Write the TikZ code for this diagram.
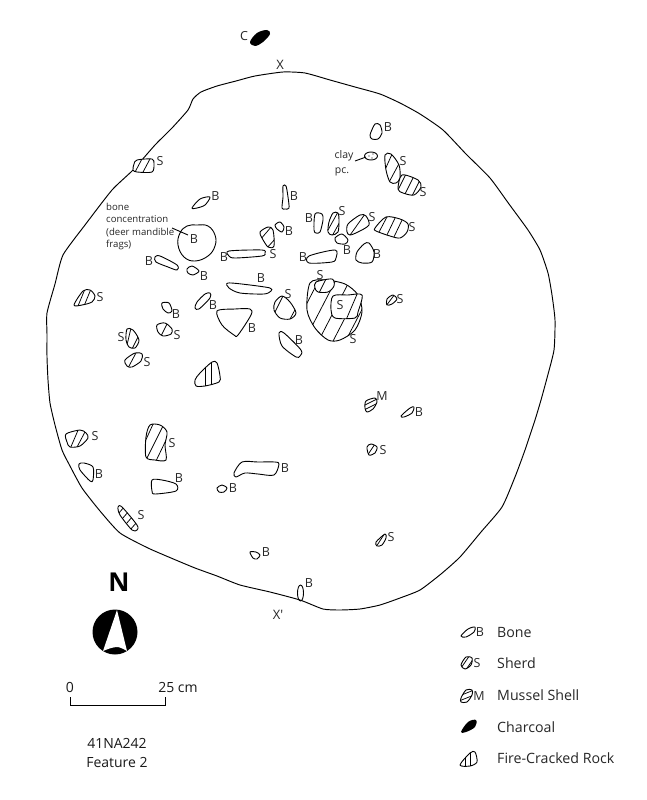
\documentclass[tikz,border=0pt]{standalone}
\usepackage{fontspec}
\setmainfont{Open Sans}
\tikzset{
 art/.style={draw=black,line width=0.9pt,line join=round},
 outline/.style={draw=black,line width=0.95pt,line join=round},
 hatchline/.style={draw=black,line width=0.75pt},
 lbl/.style={inner sep=0pt,font=\fontsize{12.5}{14}\selectfont,text=black!85},
 small/.style={inner sep=0pt,font=\fontsize{12}{14}\selectfont,align=left,text=black!85},
 legend/.style={inner sep=0pt,anchor=west,font=\fontsize{14.2}{16}\selectfont,text=black!85},
 caption/.style={inner sep=0pt,font=\fontsize{14}{16}\selectfont,text=black!90}
}
\newcounter{lbn}
\newcommand{\lb}[3]{\stepcounter{lbn}\node[lbl] (lb\arabic{lbn}) at (#1,#2) {#3};}
\newcommand{\blob}[1]{\draw[art,fill=white] plot[smooth cycle,tension=.5] coordinates {#1};}
\newcommand{\hblob}[2]{\fill[white] plot[smooth cycle,tension=.5] coordinates {#1};
 \begin{scope}\clip plot[smooth cycle,tension=.5] coordinates {#1};\draw[hatchline] #2;\end{scope}
 \draw[art] plot[smooth cycle,tension=.5] coordinates {#1};}
\begin{document}
\begin{tikzpicture}[x=1pt,y=-1pt]
\useasboundingbox (0,0) rectangle (647,800);
% feature outline
\draw[outline] plot[smooth cycle,tension=.35] coordinates {(283,72)(255,76)(236,81)(217,86)(201,92)(193,99)(188,110)(172,128)(155,145)(133,170)(112,190)(85,225)(63,255)(55,284)(47,313)(47,335)(47,357)(48,380)(50,403)(55,425)(62,450)(70,466)(82,488)(100,511)(120,533)(148,548)(171,558)(195,568)(217,576)(240,585)(270,592)(300,600)(323,609)(340,610)(360,609)(380,605)(400,598)(420,590)(441,574)(460,557)(481,532)(502,507)(515,477)(525,450)(535,420)(541,400)(547,378)(554,350)(555,320)(552,295)(548,273)(540,250)(528,230)(509,204)(490,178)(466,154)(443,130)(420,114)(400,103)(380,94)(355,87)(330,80)(305,73)};
\node[lbl,font=\fontsize{13}{15}\selectfont] (x) at (280,65) {X};
\node[lbl,font=\fontsize{13}{15}\selectfont] (xp) at (278,615) {X\textquotesingle};
% charcoal
\fill[black] plot[smooth cycle,tension=.6] coordinates {(250,42)(257,33)(267,30)(270,34)(263,42)(255,46)};
\lb{244}{36}{C}
% upper left
\hblob{(137,160)(152,159)(154,164)(152,172)(137,172)(133,170)(134,164)}{(134,174)--(143,157) (142,174)--(151,157)}
\lb{160}{161}{S}
\blob{(192,208)(200,199)(210,197)(205,205)(197,208)}
\lb{215.5}{196}{B}
\draw[art] plot[smooth cycle,tension=.7] coordinates {(197,225)(208,226)(215,235)(215,246)(208,256)(195,261)(184,257)(178,245)(180,233)(187,226)};
\lb{194}{239}{B}
\coordinate (bc1) at (172,228); \coordinate (bc2) at (188,235);
\draw[art] (bc1) -- (bc2);
\node[small,anchor=north west,font=\fontsize{9.6}{12.4}\selectfont] (bconc) at (106,203) {bone\\concentration\\(deer mandible\\frags)};
\blob{(155,257)(160,256)(177,265)(177,270)(168,267)(156,262)}
\lb{149}{261}{B}
\blob{(187,269)(192,266)(199,271)(193,275)(188,273)}
\lb{204}{276}{B}
\blob{(229,251)(262,250)(265,253)(262,256)(235,258)(229,256)}
\lb{224}{257}{B}
\blob{(283,186)(286,186)(288,197)(289,208)(285,209)(282,208)(283,197)}
\lb{294}{196}{B}
\hblob{(268,227)(273,230)(274,246)(268,247)(262,238)(260,232)}{(260,240)--(272,226) (266,249)--(276,238)}
\lb{273}{254}{S}
\blob{(275,225)(280,222)(284,227)(282,232)(277,229)}
\lb{289}{231}{B}
\blob{(228,283)(250,285)(270,288)(271,291)(264,294)(240,293)(229,288)}
\lb{261}{278}{B}
% upper right
\blob{(375,124)(380,125)(382,133)(378,139)(372,139)(370,135)}
\lb{388}{127}{B}
\draw[art] (371,156) ellipse [x radius=6.5,y radius=4];
\fill (369,156) circle (.7); \fill (373,154) circle (.7); \fill (372,158) circle (.7);
\coordinate (cl1) at (355,161); \coordinate (cl2) at (366,157);
\draw[art] (cl1) -- (cl2);
\node[small,font=\fontsize{10.5}{12}\selectfont] (clay) at (344,156) {clay};
\node[small,font=\fontsize{10.5}{12}\selectfont] (pc) at (342,172) {pc.};
\hblob{(385,155)(391,154)(399,165)(400,178)(396,183)(390,182)(386,170)}{(384,172)--(393,152) (387,186)--(402,158)}
\lb{403}{161}{S}
\hblob{(402,175)(418,180)(421,187)(414,195)(403,193)(398,189)}{(398,190)--(407,172) (404,196)--(414,176) (411,198)--(420,180)}
\lb{423}{192}{S}
\blob{(315,214)(322,214)(323,220)(320,232)(316,233)(314,230)}
\lb{309}{218}{B}
\hblob{(333,213)(338,213)(339,220)(338,232)(332,235)(328,232)(329,222)}{(328,230)--(338,212) (331,238)--(342,218)}
\lb{342}{211}{S}
\hblob{(348,224)(360,215)(366,216)(369,225)(358,232)(350,235)(347,232)}{(348,238)--(365,214)}
\lb{372}{217}{S}
\hblob{(375,228)(386,217)(400,219)(408,224)(407,232)(400,238)(390,236)(376,231)}{(378,234)--(388,215) (386,237)--(396,216) (393,239)--(403,218)}
\lb{412}{227}{S}
\blob{(335,238)(342,234)(348,240)(345,244)(337,243)}
\lb{347}{250}{B}
\blob{(309,256)(335,250)(336,258)(332,262)(309,263)}
\lb{303}{257}{B}
\blob{(364,244)(369,243)(374,252)(372,262)(362,263)(356,260)(357,252)}
\lb{377}{254}{B}
% large sherd with overlays
\hblob{(310,283)(325,280)(345,284)(358,295)(362,312)(355,330)(340,340)(328,340)(315,328)(307,310)}{(305,307)--(320,278) (310,330)--(338,276) (318,342)--(350,280) (331,345)--(362,285) (345,342)--(368,298)}
\lb{353}{339}{S}
\hblob{(316,282)(332,279)(334,286)(328,292)(318,292)(315,288)}{(318,295)--(327,277)}
\lb{320}{275}{S}
\hblob{(333,296)(348,295)(362,295)(358,312)(355,318)(335,318)(331,310)}{(346,320)--(358,292)}
\lb{340}{305}{S}
\hblob{(387,299)(393,295)(397,299)(392,304)(387,305)}{(386,306)--(395,294)}
\lb{400}{299}{S}
\hblob{(282,296)(290,302)(296,313)(290,319)(280,318)(274,310)(275,302)}{(272,318)--(284,294) (289,321)--(297,306)}
\lb{288}{294}{S}
\blob{(279,333)(284,333)(301,350)(300,356)(296,357)(282,346)}
\lb{299}{340}{B}
% middle
\blob{(217,311)(235,309)(250,309)(251,315)(238,335)(234,335)(222,325)}
\lb{252}{328}{B}
\blob{(205,294)(210,293)(210,298)(199,309)(195,308)(197,302)}
\lb{213}{305}{B}
\blob{(162,303)(169,303)(172,311)(168,313)(163,309)}
\lb{176}{314}{B}
\hblob{(157,325)(165,323)(172,329)(171,334)(163,336)(158,332)}{(160,338)--(168,322)}
\lb{177}{335}{S}
\hblob{(127,329)(133,330)(139,340)(135,348)(129,347)(126,340)}{(127,345)--(131,328) (132,349)--(139,335)}
\lb{121}{337}{S}
\hblob{(125,360)(135,353)(142,354)(141,361)(132,367)(127,366)}{(128,368)--(137,351)}
\lb{147}{362}{S}
\hblob{(74,305)(83,291)(90,290)(95,296)(92,302)(82,305)}{(78,306)--(85,289) (84,306)--(91,289)}
\lb{100}{297}{S}
\hblob{(200,373)(212,362)(217,363)(220,376)(219,382)(205,386)(196,386)(195,380)}{(205,365)--(205,390) (211,360)--(211,390)}
% lower left
\hblob{(66,434)(80,430)(86,433)(88,438)(80,446)(70,447)(67,442)}{(70,449)--(79,428) (76,449)--(86,430)}
\lb{95}{436}{S}
\blob{(79,464)(84,463)(93,467)(93,480)(90,481)(80,470)}
\lb{99}{474}{B}
\hblob{(150,425)(160,425)(167,432)(165,445)(166,460)(155,460)(146,457)(146,437)}{(144,444)--(154,422) (146,460)--(164,424) (155,463)--(168,436)}
\lb{172}{443}{S}
\blob{(152,480)(162,480)(176,484)(176,491)(155,494)(152,491)}
\lb{179}{478}{B}
\blob{(234,473)(242,462)(258,462)(275,462)(279,464)(274,475)(258,474)(245,473)(236,477)}
\lb{285}{468}{B}
\blob{(217,488)(222,485)(227,488)(224,492)(219,492)}
\lb{233}{488}{B}
\hblob{(118,507)(122,507)(137,525)(137,530)(132,530)(120,515)}{(118,514)--(125,506) (122,519)--(129,511) (126,524)--(133,516) (130,530)--(137,522)}
\lb{141}{515}{S}
% lower right
\hblob{(366,401)(375,398)(377,402)(373,409)(367,412)(365,408)}{(363,406)--(377,399) (364,410)--(378,403)}
\lb{382}{396}{M}
\blob{(401,416)(410,408)(414,407)(412,413)(404,417)}
\lb{419}{412}{B}
\hblob{(367,447)(371,444)(377,447)(375,453)(369,455)}{(367,456)--(375,444)}
\lb{383}{450}{S}
\hblob{(376,542)(385,534)(386,538)(382,545)(377,546)}{(376,547)--(385,533)}
\lb{391}{537}{S}
\blob{(250,552)(256,552)(260,555)(257,559)(253,558)}
\lb{266}{552}{B}
\draw[art] (300.5,593) ellipse [x radius=3,y radius=8];
\lb{309}{583}{B}
% north arrow
\node[inner sep=0pt,font=\fontsize{26}{28}\bfseries\selectfont] (north) at (119,582) {N};
\fill[black] (115,632) circle (22.5);
\fill[white] (117,610) -- (127,651) .. controls (122,648) and (119,647) .. (117,647) .. controls (113,647) and (108,649) .. (103,651) -- cycle;
% scale
\draw[line width=1pt] (70,697) -- (70,705) -- (165,705) -- (165,697);
\node[caption] (s0) at (70,687) {0};
\node[caption] (s25) at (178,687) {25 cm};
\node[caption] (site) at (117,743) {41NA242};
\node[caption] (feat) at (117,762) {Feature 2};
% legend
\blob{(461,636)(468,629)(475,627)(474,632)(466,637)}
\lb{480}{632}{B}
\node[legend] (lg1) at (497,632) {Bone};
\hblob{(461,665)(466,657)(472,658)(471,665)(465,669)}{(461,668)--(470,655) (465,671)--(474,658)}
\lb{477}{663}{S}
\node[legend] (lg2) at (497,663) {Sherd};
\hblob{(461,698)(466,690)(472,690)(472,695)(467,702)(461,702)}{(459,696)--(474,690) (459,701)--(474,695)}
\lb{479}{696}{M}
\node[legend] (lg3) at (497,695) {Mussel Shell};
\fill[black] plot[smooth cycle,tension=.6] coordinates {(461,732)(468,722)(476,720)(475,727)(466,732)};
\node[legend] (lg4) at (497,727) {Charcoal};
\hblob{(460,765)(470,753)(475,752)(477,762)(470,766)}{(465,750)--(465,770) (470,750)--(470,770)}
\node[legend] (lg5) at (497,758) {Fire-Cracked Rock};
\end{tikzpicture}
\end{document}
